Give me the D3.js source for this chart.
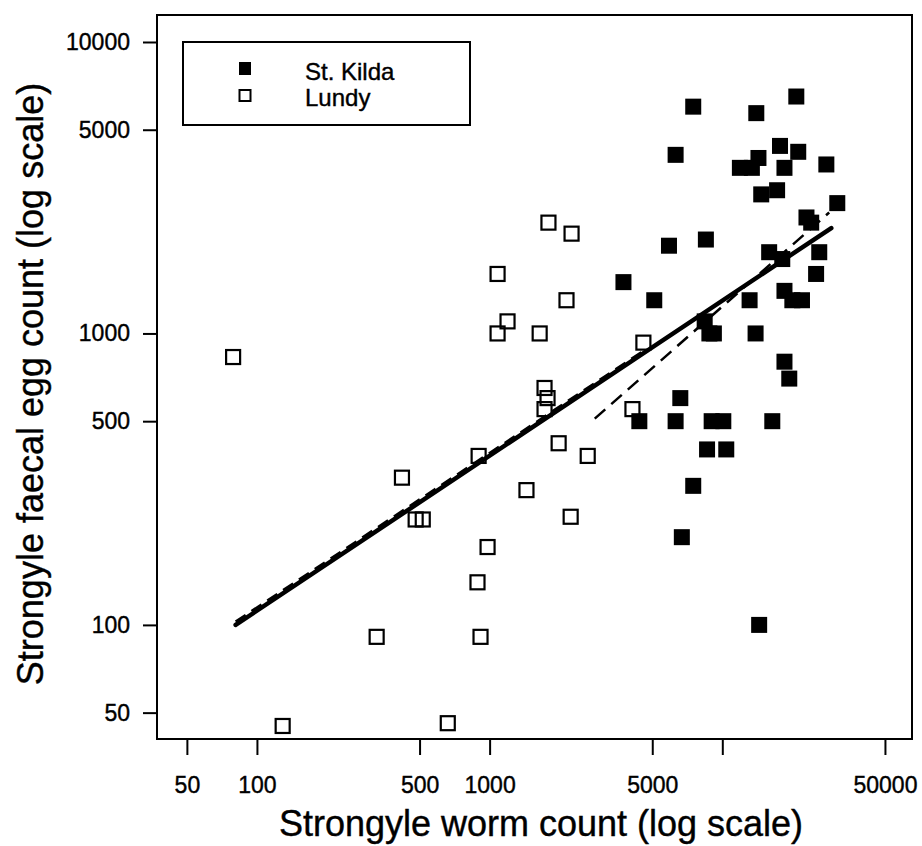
<!DOCTYPE html>
<html>
<head>
<meta charset="utf-8">
<script src="https://cdn.jsdelivr.net/npm/d3@7"></script>
<style>
  body { margin: 0; background: #fff; }
  text { font-family: "Liberation Sans", Arial, sans-serif; fill: #000; stroke: #000; stroke-width: 0.4; }
</style>
</head>
<body>
<svg id="chart" width="922" height="846"></svg>
<script>
const svg = d3.select("#chart");

// St. Kilda: [worm count, faecal egg count]
const stKilda = [
    [7500, 6000], [14000, 5700], [20800, 6500], [6300, 4100],
    [17700, 4400], [21200, 4200], [14300, 4000], [11900, 3700],
    [13400, 3700], [18500, 3700], [28000, 3800], [14700, 3000],
    [17200, 3100], [31200, 2800], [23000, 2500], [24100, 2400],
    [5900, 2000], [8500, 2100], [15900, 1900], [18100, 1800],
    [26100, 1900], [25300, 1600], [3760, 1500], [5100, 1300],
    [13100, 1300], [18500, 1400], [20000, 1300], [22000, 1300],
    [8400, 1100], [8800, 1000], [9200, 1000], [13900, 1000],
    [18500, 800], [19400, 700], [6600, 600], [4400, 500],
    [6300, 500], [9000, 500], [10100, 500], [16400, 500],
    [8600, 400], [10400, 400], [7500, 300], [6700, 200],
    [14400, 100]
];

// Lundy: [worm count, faecal egg count]
const lundy = [
    [79, 830], [420, 320], [129, 45], [327, 91],
    [481, 230], [516, 230], [897, 380], [1980, 420],
    [2640, 380], [1440, 290], [2230, 235], [980, 185],
    [887, 140], [914, 91], [661, 46], [1722, 650],
    [1774, 600], [1722, 550], [1790, 2400], [2250, 2200],
    [1082, 1600], [2140, 1300], [1194, 1100], [1082, 1000],
    [1641, 1000], [4580, 930], [4110, 550]
];

// fitted lines (end points)
const fitAll = [[81, 100], [29400, 2300]];
const fitLundy = [[81, 101], [4600, 860]];
const fitKilda = [[2830, 510], [28800, 2600]];

const xTicks = [50, 100, 500, 1000, 5000, 10000, 50000];
const xTickLabels = ["50", "100", "500", "1000", "5000", "", "50000"];
const yTicks = [50, 100, 500, 1000, 5000, 10000];
const yTickLabels = ["50", "100", "500", "1000", "5000", "10000"];

const plotLeft = 157, plotRight = 912, plotTop = 15, plotBottom = 739;

const x = d3.scaleLog().domain([37.2, 65350]).range([plotLeft, plotRight]);
const y = d3.scaleLog().domain([40.6, 12377]).range([plotBottom, plotTop]);

// frame
svg.append("rect")
    .attr("x", plotLeft).attr("y", plotTop)
    .attr("width", plotRight - plotLeft).attr("height", plotBottom - plotTop)
    .attr("fill", "none").attr("stroke", "#000").attr("stroke-width", 2);

// axes
const xAxis = svg.append("g")
    .attr("transform", `translate(0,${plotBottom})`)
    .call(d3.axisBottom(x).tickValues(xTicks)
        .tickFormat((d, i) => xTickLabels[i]).tickSize(16).tickPadding(22));
const yAxis = svg.append("g")
    .attr("transform", `translate(${plotLeft},0)`)
    .call(d3.axisLeft(y).tickValues(yTicks)
        .tickFormat((d, i) => yTickLabels[i]).tickSize(14).tickPadding(13));

[xAxis, yAxis].forEach(g => {
    g.select(".domain").remove();
    g.selectAll("line").attr("stroke", "#000").attr("stroke-width", 2);
    g.selectAll("text").attr("font-size", 23)
        .style("font-family", '"Liberation Sans", Arial, sans-serif');
});

// axis titles
svg.append("text")
    .attr("x", 541).attr("y", 836)
    .attr("text-anchor", "middle")
    .attr("font-size", 36)
    .text("Strongyle worm count (log scale)");

svg.append("text")
    .attr("transform", "translate(43,384) rotate(-90)")
    .attr("text-anchor", "middle")
    .attr("font-size", 36)
    .text("Strongyle faecal egg count (log scale)");

// points
svg.append("g").selectAll("rect")
    .data(lundy)
    .enter().append("rect")
    .attr("x", d => x(d[0]) - 7)
    .attr("y", d => y(d[1]) - 7)
    .attr("width", 14).attr("height", 14)
    .attr("fill", "none").attr("stroke", "#000").attr("stroke-width", 2.2);

svg.append("g").selectAll("rect")
    .data(stKilda)
    .enter().append("rect")
    .attr("x", d => x(d[0]) - 8)
    .attr("y", d => y(d[1]) - 8)
    .attr("width", 16).attr("height", 16)
    .attr("fill", "#000");

// fitted lines
const line = d3.line().x(d => x(d[0])).y(d => y(d[1]));

svg.append("path").datum(fitAll)
    .attr("d", line).attr("fill", "none")
    .attr("stroke", "#000").attr("stroke-width", 4.5)
    .attr("stroke-linecap", "round");

svg.append("path").datum(fitLundy)
    .attr("d", line).attr("fill", "none")
    .attr("stroke", "#000").attr("stroke-width", 2.5)
    .attr("stroke-dasharray", "12,7")
    .attr("transform", "translate(0,-2)");

svg.append("path").datum(fitKilda)
    .attr("d", line).attr("fill", "none")
    .attr("stroke", "#000").attr("stroke-width", 2.5)
    .attr("stroke-dasharray", "14,8");

// legend
const legend = svg.append("g");
legend.append("rect")
    .attr("x", 183).attr("y", 42).attr("width", 287).attr("height", 83)
    .attr("fill", "#fff").attr("stroke", "#000").attr("stroke-width", 2);
legend.append("rect")
    .attr("x", 239).attr("y", 62).attr("width", 12).attr("height", 13)
    .attr("fill", "#000");
legend.append("rect")
    .attr("x", 239.5).attr("y", 90).attr("width", 11).attr("height", 11)
    .attr("fill", "none").attr("stroke", "#000").attr("stroke-width", 2);
legend.append("text")
    .attr("x", 305).attr("y", 80).attr("font-size", 24).text("St. Kilda");
legend.append("text")
    .attr("x", 305).attr("y", 106).attr("font-size", 24).text("Lundy");
</script>
</body>
</html>
